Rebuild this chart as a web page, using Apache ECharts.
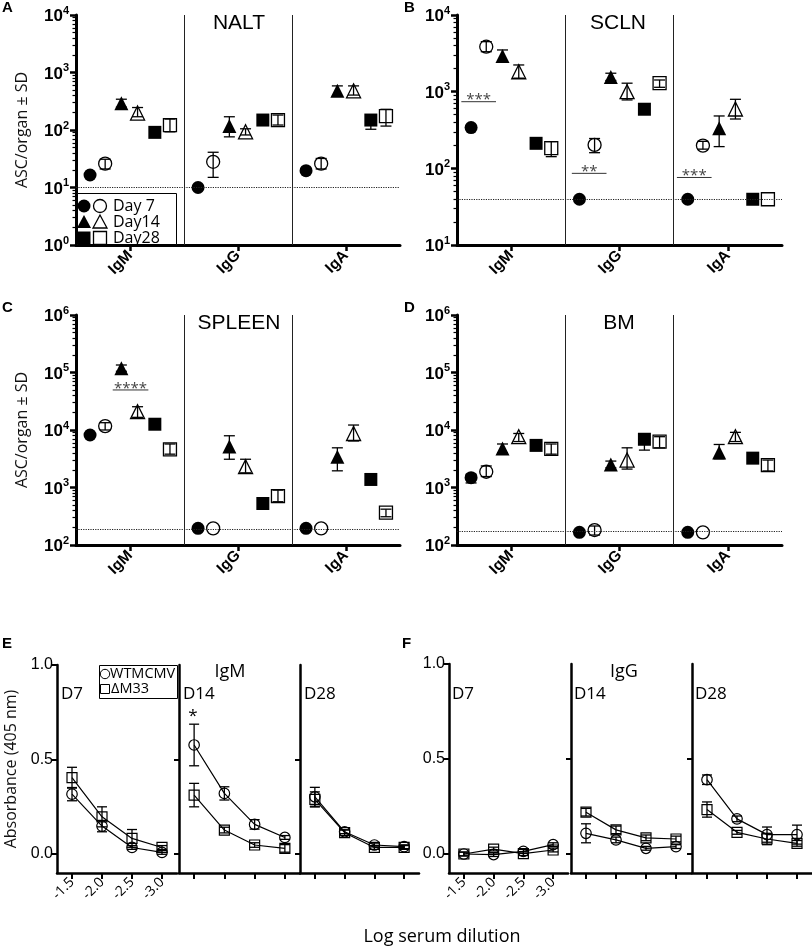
<!DOCTYPE html>
<html><head><meta charset="utf-8">
<script src="https://cdn.jsdelivr.net/npm/echarts@6/dist/echarts.min.js"></script>
<style>html,body{margin:0;padding:0;background:#fff}#c{width:812px;height:948px}</style>
</head><body><div id="c"></div>
<script>
// ---------- DATA ----------
const categories = ['IgM', 'IgG', 'IgA'];
const dayLabels = ['Day 7', 'Day14', 'Day28'];
// row order: D7 filled, D7 open, D14 filled, D14 open, D28 filled, D28 open ; columns: IgM, IgG, IgA
const naltMean = [[16.5, 10, 19.6], [26, 28, 26], [291, 117, 480], [197, 93, 480], [91, 149, 149], [122, 149, 175]];
const naltLo   = [[16.5, 10, 19.6], [21, 15, 21], [250, 76, 390], [170, 82, 405], [91, 149, 103], [93, 122, 117]];
const naltHi   = [[16.5, 10, 19.6], [31, 41, 32], [343, 170, 585], [246, 105, 585], [91, 149, 149], [155, 182, 229]];
const naltLimit = 10;

const sclnMean = [[340, 39.5, 39.5], [3860, 202, 198], [2920, 1550, 333], [1820, 1000, 594], [212, 590, 39.5], [183, 1290, 39.5]];
const sclnLo   = [[340, 39.5, 39.5], [3320, 160, 178], [2500, 1400, 192], [1500, 780, 440], [212, 590, 39.5], [142, 1140, 39.5]];
const sclnHi   = [[340, 39.5, 39.5], [4490, 245, 225], [3500, 1740, 482], [2230, 1290, 795], [212, 590, 39.5], [223, 1420, 39.5]];
const sclnLimit = 39;
const sclnSig = [[-0.46, -0.14, 740, '***'], [0.56, 0.88, 86, '**'], [1.53, 1.85, 76, '***']];

const spleenMean = [[8190, 195, 195], [11700, 195, 195], [118000, 5140, 3430], [20800, 2300, 8700], [12600, 527, 1380], [4610, 710, 365]];
const spleenLo   = [[8190, 195, 195], [10000, 195, 195], [105000, 3100, 1950], [16600, 1800, 6450], [12600, 527, 1380], [3800, 566, 310]];
const spleenHi   = [[8190, 195, 195], [13400, 195, 195], [135000, 7940, 4900], [25400, 3100, 12200], [12600, 527, 1380], [5710, 900, 420]];
const spleenLimit = 190;
const spleenSig = [[-0.16, 0.17, 49700, '****']];

const bmMean = [[1480, 166, 166], [1880, 182, 166], [4780, 2510, 4060], [7650, 3000, 7650], [5400, 6900, 3240], [4680, 6300, 2450]];
const bmLo   = [[1200, 166, 166], [1550, 149, 166], [4000, 2200, 3150], [6300, 2090, 6300], [4700, 4470, 3000], [3800, 4900, 1940]];
const bmHi   = [[1700, 166, 166], [2370, 214, 166], [5710, 2880, 5600], [8700, 4900, 9100], [5600, 7500, 3500], [5710, 7650, 3000]];
const bmLimit = 170;

const dilution = [-1.5, -2.0, -2.5, -3.0];
const eDays = ['D7', 'D14', 'D28'];
const igmWt     = [[0.317, 0.148, 0.035, 0.009], [0.577, 0.321, 0.157, 0.088], [0.303, 0.118, 0.048, 0.039]];
const igmWtSd   = [[0.035, 0.03, 0.01, 0.01], [0.11, 0.035, 0.025, 0.01], [0.05, 0.01, 0.01, 0.01]];
const igmM33    = [[0.404, 0.197, 0.083, 0.035], [0.312, 0.127, 0.048, 0.030], [0.289, 0.113, 0.035, 0.035]];
const igmM33Sd  = [[0.055, 0.053, 0.047, 0.01], [0.062, 0.015, 0.012, 0.02], [0.04, 0.015, 0.01, 0.01]];
const iggWt     = [[0.0, -0.003, 0.014, 0.049], [0.109, 0.074, 0.030, 0.039], [0.391, 0.185, 0.102, 0.102]];
const iggWtSd   = [[0.01, 0.01, 0.01, 0.01], [0.05, 0.015, 0.01, 0.01], [0.025, 0.015, 0.04, 0.05]];
const iggM33    = [[0.0, 0.026, 0.002, 0.021], [0.22, 0.127, 0.085, 0.079], [0.234, 0.114, 0.079, 0.056]];
const iggM33Sd  = [[0.01, 0.01, 0.01, 0.01], [0.02, 0.02, 0.015, 0.015], [0.04, 0.01, 0.03, 0.015]];

// ---------- STYLE / LAYOUT ----------
const offsets = [-0.37, -0.23, -0.08, 0.07, 0.23, 0.37];
const shapes = ['circle', 'circle', 'triangle', 'triangle', 'rect', 'rect'];
const solid = [true, false, true, false, true, false];
const sizes = [13, 13, 14, 14, 13, 13];
const BOLD = 'Liberation Sans, Arial, sans-serif';
const SANS = 'Open Sans, sans-serif';

const grid = [], xAxis = [], yAxis = [], series = [], graphic = [];
const minorAxes = [];

function errRender(half) {
  return function (params, api) {
    const x = api.value(0), l = api.value(1), h = api.value(2);
    if (l === h) return null;
    const a = api.coord([x, l]), b = api.coord([x, h]);
    const st = { stroke: '#000', lineWidth: 1.3 };
    return { type: 'group', children: [
      { type: 'line', shape: { x1: a[0], y1: a[1], x2: b[0], y2: b[1] }, style: st },
      { type: 'line', shape: { x1: a[0] - half, y1: a[1], x2: a[0] + half, y2: a[1] }, style: st },
      { type: 'line', shape: { x1: b[0] - half, y1: b[1], x2: b[0] + half, y2: b[1] }, style: st }
    ] };
  };
}

function logMinors(ymin, ymax) {
  const out = [];
  for (let d = ymin; d < ymax; d *= 10) for (let m = 2; m <= 9; m++) out.push(d * m);
  return out;
}

function topPanel(rect, ymin, ymax, mean, lo, hi, limit, yName, sig) {
  const g = grid.length;
  grid.push(Object.assign({ containLabel: false }, rect));
  xAxis.push({
    gridIndex: g, type: 'value', min: -0.5, max: 2.5,
    axisLine: { show: true, onZero: false, lineStyle: { color: '#000', width: 3 } },
    axisTick: { show: true, customValues: [0, 1, 2], length: 6, lineStyle: { color: '#000', width: 2.5 } },
    axisLabel: { customValues: [0, 1, 2], formatter: v => categories[Math.round(v)], rotate: 45, fontWeight: 'bold',
      fontSize: 15.5, fontFamily: BOLD, color: '#000', margin: 8 },
    splitLine: { show: false }
  });
  yAxis.push({
    gridIndex: g, type: 'log', logBase: 10, min: ymin, max: ymax, position: 'left',
    name: yName, nameLocation: 'middle', nameGap: 46,
    nameTextStyle: { fontSize: 16, fontFamily: SANS, color: '#111' },
    axisLine: { show: true, onZero: false, lineStyle: { color: '#000', width: 3 } },
    axisTick: { show: true, length: 6, lineStyle: { color: '#000', width: 2.5 } },
    axisLabel: {
      margin: 7, color: '#000',
      formatter: v => '{b|10}{s|' + Math.round(Math.log10(v)) + '}',
      rich: {
        b: { fontSize: 17, fontWeight: 'bold', fontFamily: BOLD, color: '#000', lineHeight: 20, verticalAlign: 'bottom' },
        s: { fontSize: 11, fontWeight: 'bold', fontFamily: BOLD, color: '#000', lineHeight: 20, verticalAlign: 'top' }
      }
    },
    splitLine: { show: false }
  });
  minorAxes.push({
    gridIndex: g, type: 'log', logBase: 10, min: ymin, max: ymax, position: 'left',
    axisLine: { show: false, onZero: false },
    axisTick: { show: true, customValues: logMinors(ymin, ymax), length: 3.5, lineStyle: { color: '#000', width: 1.2 } },
    axisLabel: { show: false }, splitLine: { show: false }
  });
  for (let k = 0; k < 6; k++) {
    series.push({
      type: 'custom', xAxisIndex: g, yAxisIndex: g, z: 3, silent: true, animation: false,
      data: mean[k].map((v, i) => [i + offsets[k], lo[k][i], hi[k][i]]),
      encode: { x: 0, y: [1, 2] }, renderItem: errRender(5.5)
    });
    const s = {
      type: 'scatter', xAxisIndex: g, yAxisIndex: g, z: 4, silent: true, animation: false,
      symbol: shapes[k], symbolSize: sizes[k],
      itemStyle: solid[k] ? { color: '#000', opacity: 1 } : { color: 'rgba(0,0,0,0)', borderColor: '#000', borderWidth: 1.3, opacity: 1 },
      data: mean[k].map((v, i) => [i + offsets[k], v])
    };
    if (k === 0) {
      s.markLine = {
        silent: true, symbol: 'none', label: { show: false }, animation: false,
        data: [
          { xAxis: 0.5, lineStyle: { type: 'solid', color: '#222', width: 1 } },
          { xAxis: 1.5, lineStyle: { type: 'solid', color: '#222', width: 1 } },
          { yAxis: limit, lineStyle: { type: 'dotted', color: '#222', width: 1.2 } }
        ]
      };
    }
    series.push(s);
  }
  if (sig) {
    series.push({
      type: 'custom', xAxisIndex: g, yAxisIndex: g, z: 5, silent: true, animation: false,
      data: sig.map(s => [s[0], s[1], s[2]]), encode: { x: [0, 1], y: 2 },
      renderItem: (params, api) => {
        const a = api.coord([api.value(0), api.value(2)]);
        const b = api.coord([api.value(1), api.value(2)]);
        return { type: 'group', children: [
          { type: 'line', shape: { x1: a[0], y1: a[1], x2: b[0], y2: a[1] }, style: { stroke: '#333', lineWidth: 1 } },
          { type: 'text', x: (a[0] + b[0]) / 2, y: a[1] + 6,
            style: { text: sig[params.dataIndex][3], font: '15px ' + SANS, fill: '#444', textAlign: 'center', textVerticalAlign: 'bottom' } }
        ] };
      }
    });
  }
}

function elisaPanel(rect, first, wt, wtSd, m33, m33Sd, yName) {
  const g = grid.length;
  grid.push(Object.assign({ containLabel: false }, rect));
  xAxis.push({
    gridIndex: g, type: 'value', min: -3.25, max: -1.25, inverse: true,
    axisLine: { show: true, onZero: false, lineStyle: { color: '#000', width: 2.5 } },
    axisTick: { show: true, customValues: dilution, length: 6, lineStyle: { color: '#000', width: 2 } },
    axisLabel: { show: first, customValues: dilution, formatter: v => v.toFixed(1), rotate: 45, fontSize: 14,
      fontFamily: SANS, color: '#000', margin: 7 },
    splitLine: { show: false }
  });
  yAxis.push({
    gridIndex: g, type: 'value', min: -0.1, max: 1.0, position: 'left',
    name: yName || '', nameLocation: 'middle', nameGap: 38,
    nameTextStyle: { fontSize: 16, fontFamily: SANS, color: '#111' },
    axisLine: { show: true, onZero: false, lineStyle: { color: '#000', width: 2.5 } },
    axisTick: { show: true, customValues: first ? [0, 0.5, 1] : [0, 0.5], length: 5, lineStyle: { color: '#000', width: 2 } },
    axisLabel: { show: first, customValues: [0, 0.5, 1], formatter: v => v.toFixed(1), fontSize: 16,
      fontFamily: BOLD, color: '#000', margin: 4 },
    splitLine: { show: false }
  });
  const defs = [[wt, wtSd, 'circle'], [m33, m33Sd, 'rect']];
  defs.forEach(([m, sd, sym]) => {
    series.push({
      type: 'custom', xAxisIndex: g, yAxisIndex: g, z: 3, silent: true, animation: false,
      data: dilution.map((x, i) => [x, m[i] - sd[i], m[i] + sd[i]]),
      encode: { x: 0, y: [1, 2] }, renderItem: errRender(5)
    });
    series.push({
      type: 'line', xAxisIndex: g, yAxisIndex: g, z: 4, silent: true, animation: false,
      symbol: sym, symbolSize: sym === 'circle' ? 10.5 : 10, showAllSymbol: true,
      itemStyle: { color: 'rgba(0,0,0,0)', borderColor: '#000', borderWidth: 1.2, opacity: 1 },
      lineStyle: { color: '#000', width: 1.2 },
      data: dilution.map((x, i) => [x, m[i]])
    });
  });
}

topPanel({ left: 76, top: 15, width: 324, height: 230 }, 1, 1e4, naltMean, naltLo, naltHi, naltLimit, 'ASC/organ ± SD', null);
topPanel({ left: 457, top: 15, width: 325, height: 230 }, 10, 1e4, sclnMean, sclnLo, sclnHi, sclnLimit, '', sclnSig);
topPanel({ left: 76, top: 315, width: 324, height: 230 }, 100, 1e6, spleenMean, spleenLo, spleenHi, spleenLimit, 'ASC/organ ± SD', spleenSig);
topPanel({ left: 457, top: 315, width: 325, height: 230 }, 100, 1e6, bmMean, bmLo, bmHi, bmLimit, '', null);

const eLefts = [57, 179, 300], eWidths = [120, 121, 119];
const fLefts = [449, 571, 692], fWidths = [119, 120, 120];
for (let d = 0; d < 3; d++) {
  elisaPanel({ left: eLefts[d], top: 665, width: eWidths[d], height: 208 }, d === 0, igmWt[d], igmWtSd[d], igmM33[d], igmM33Sd[d], d === 0 ? 'Absorbance (405 nm)' : '');
}
for (let d = 0; d < 3; d++) {
  elisaPanel({ left: fLefts[d], top: 664, width: fWidths[d], height: 209 }, d === 0, iggWt[d], iggWtSd[d], iggM33[d], iggM33Sd[d], '');
}
minorAxes.forEach(a => yAxis.push(a));

// ---------- TEXT / LEGENDS ----------
function txt(t, x, y, font, align) {
  graphic.push({ type: 'text', x: x, y: y, z: 100, silent: true,
    style: { text: t, font: font, fill: '#000', textAlign: align || 'left', textVerticalAlign: 'middle' } });
}
txt('A', 2, 8, 'bold 15px ' + BOLD);
txt('B', 404, 8, 'bold 15px ' + BOLD);
txt('C', 2, 308, 'bold 15px ' + BOLD);
txt('D', 404, 308, 'bold 15px ' + BOLD);
txt('E', 2, 644, 'bold 15px ' + BOLD);
txt('F', 402, 644, 'bold 15px ' + BOLD);
txt('NALT', 239, 23, '21px ' + BOLD, 'center');
txt('SCLN', 618, 23, '21px ' + BOLD, 'center');
txt('SPLEEN', 239, 323, '21px ' + BOLD, 'center');
txt('BM', 619, 323, '21px ' + BOLD, 'center');
txt('IgM', 230, 672, '18px ' + SANS, 'center');
txt('IgG', 624, 672, '18px ' + SANS, 'center');
eDays.forEach((d, i) => txt(d, eLefts[i] + 4, 694, '17px ' + SANS));
eDays.forEach((d, i) => txt(d, fLefts[i] + 3, 694, '17px ' + SANS));
txt('*', 193, 716, '17px ' + SANS, 'center');
txt('Log serum dilution', 442, 937, '18px ' + SANS, 'center');

// Panel A legend
graphic.push({ type: 'rect', z: 90, silent: true, shape: { x: 77.5, y: 193.5, width: 99, height: 51 },
  style: { fill: '#fff', stroke: '#000', lineWidth: 1 } });
const legRows = [206, 222, 238];
function legShape(kind, filled, cx, cy) {
  const style = filled ? { fill: '#000' } : { fill: 'rgba(0,0,0,0)', stroke: '#000', lineWidth: 1.3 };
  if (kind === 'circle') graphic.push({ type: 'circle', z: 95, silent: true, shape: { cx: cx, cy: cy, r: 6.5 }, style: style });
  else if (kind === 'triangle') graphic.push({ type: 'polygon', z: 95, silent: true, shape: { points: [[cx, cy - 7], [cx - 7, cy + 6], [cx + 7, cy + 6]] }, style: style });
  else graphic.push({ type: 'rect', z: 95, silent: true, shape: { x: cx - 6.5, y: cy - 6.5, width: 13, height: 13 }, style: style });
}
['circle', 'triangle', 'rect'].forEach((k, i) => {
  legShape(k, true, 84, legRows[i]);
  legShape(k, false, 100, legRows[i]);
  txt(dayLabels[i], 113, legRows[i], '16px ' + SANS);
});

// Panel E legend
graphic.push({ type: 'rect', z: 90, silent: true, shape: { x: 99.5, y: 665.5, width: 78, height: 33 },
  style: { fill: '#fff', stroke: '#000', lineWidth: 1 } });
graphic.push({ type: 'circle', z: 95, silent: true, shape: { cx: 105, cy: 674, r: 4.7 }, style: { fill: 'none', stroke: '#000', lineWidth: 1 } });
graphic.push({ type: 'rect', z: 95, silent: true, shape: { x: 100.5, y: 684.5, width: 9, height: 9 }, style: { fill: 'none', stroke: '#000', lineWidth: 1 } });
txt('WTMCMV', 110, 674, '14.5px ' + SANS);
txt('ΔM33', 111, 689, '14.5px ' + SANS);

const chart = echarts.init(document.getElementById('c'), null, { renderer: 'canvas' });
chart.setOption({ animation: false, backgroundColor: '#fff', grid, xAxis, yAxis, series, graphic });
</script>
</body></html>
